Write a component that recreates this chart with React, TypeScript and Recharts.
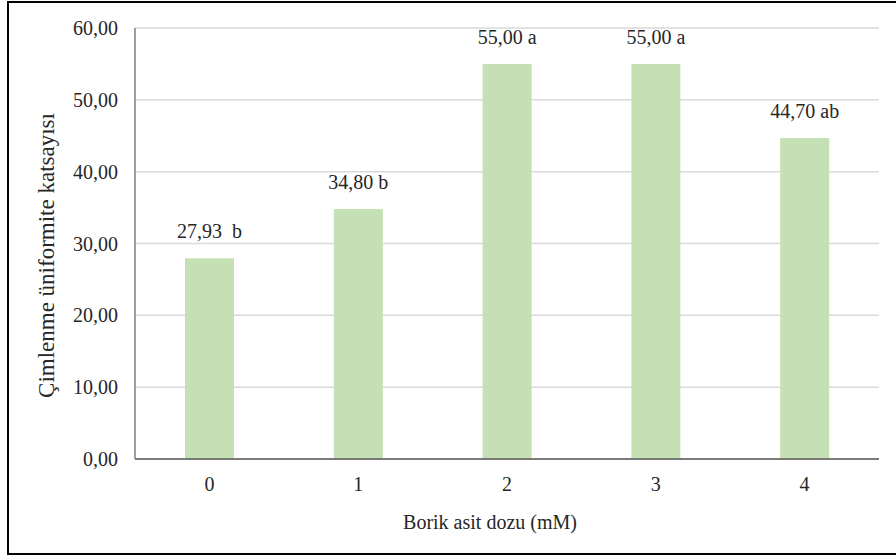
import { BarChart, Bar, XAxis, YAxis, CartesianGrid, LabelList } from 'recharts';

const doses = ['0', '1', '2', '3', '4'];
const values = [27.93, 34.8, 55.0, 55.0, 44.7];
const letters = ['  b', ' b', ' a', ' a', ' ab'];
const yTicks = [0, 10, 20, 30, 40, 50, 60];

const fmt = (v: number) => v.toFixed(2).replace('.', ',');

const data = doses.map((d, i) => ({
  dose: d,
  value: values[i],
  label: fmt(values[i]) + letters[i],
}));

const font = '"Times New Roman", "Liberation Serif", serif';
const textColor = '#262626';
const fs = 20;

// raw text so the double space in "27,93  b" survives and nothing wraps
const BarLabel = (props: any) => {
  const { x, y, width, value } = props;
  return (
    <text
      x={Number(x) + Number(width) / 2}
      y={Number(y) - 20}
      textAnchor="middle"
      fill={textColor}
      fontSize={fs}
      fontFamily={font}
      xmlSpace="preserve"
      style={{ whiteSpace: 'pre' }}
    >
      {value}
    </text>
  );
};

export default function App() {
  return (
    <div style={{ position: 'absolute', left: 0, top: 0, width: 896, height: 556, overflow: 'hidden', background: '#fff' }}>
      <div
        style={{
          position: 'absolute',
          left: 7,
          top: 1,
          width: 900,
          height: 554,
          border: '2px solid #000',
          boxSizing: 'border-box',
        }}
      />
      <div style={{ position: 'absolute', left: 0, top: 0 }}>
        <BarChart
          width={896}
          height={556}
          data={data}
          margin={{ top: 28, right: 17, left: 0, bottom: 0 }}
          barCategoryGap={50}
          style={{ fontFamily: font }}
        >
          <CartesianGrid vertical={false} stroke="#d9d9d9" strokeWidth={1.5} />
          <XAxis
            dataKey="dose"
            height={97}
            stroke="#595959"
            strokeWidth={1.5}
            tickLine={false}
            tickSize={0}
            tickMargin={18}
            tick={{ fill: textColor, fontSize: fs, fontFamily: font }}
            label={{
              value: 'Borik asit dozu (mM)',
              position: 'insideBottom',
              offset: 27,
              dx: -17,
              fill: textColor,
              fontSize: fs,
              fontFamily: font,
            }}
          />
          <YAxis
            width={135}
            domain={[0, 60]}
            ticks={yTicks}
            interval={0}
            stroke="#7f7f7f"
            strokeWidth={1.5}
            tickLine={false}
            tickSize={0}
            tickMargin={17}
            tickFormatter={fmt}
            tick={{ fill: textColor, fontSize: fs, fontFamily: font }}
            label={{
              value: 'Çimlenme üniformite katsayısı',
              angle: -90,
              position: 'center',
              dx: -22,
              dy: 12,
              fill: textColor,
              fontSize: 23,
              fontFamily: font,
            }}
          />
          <Bar dataKey="value" fill="#c5e0b4" isAnimationActive={false}>
            <LabelList dataKey="label" content={BarLabel} />
          </Bar>
        </BarChart>
      </div>
    </div>
  );
}
